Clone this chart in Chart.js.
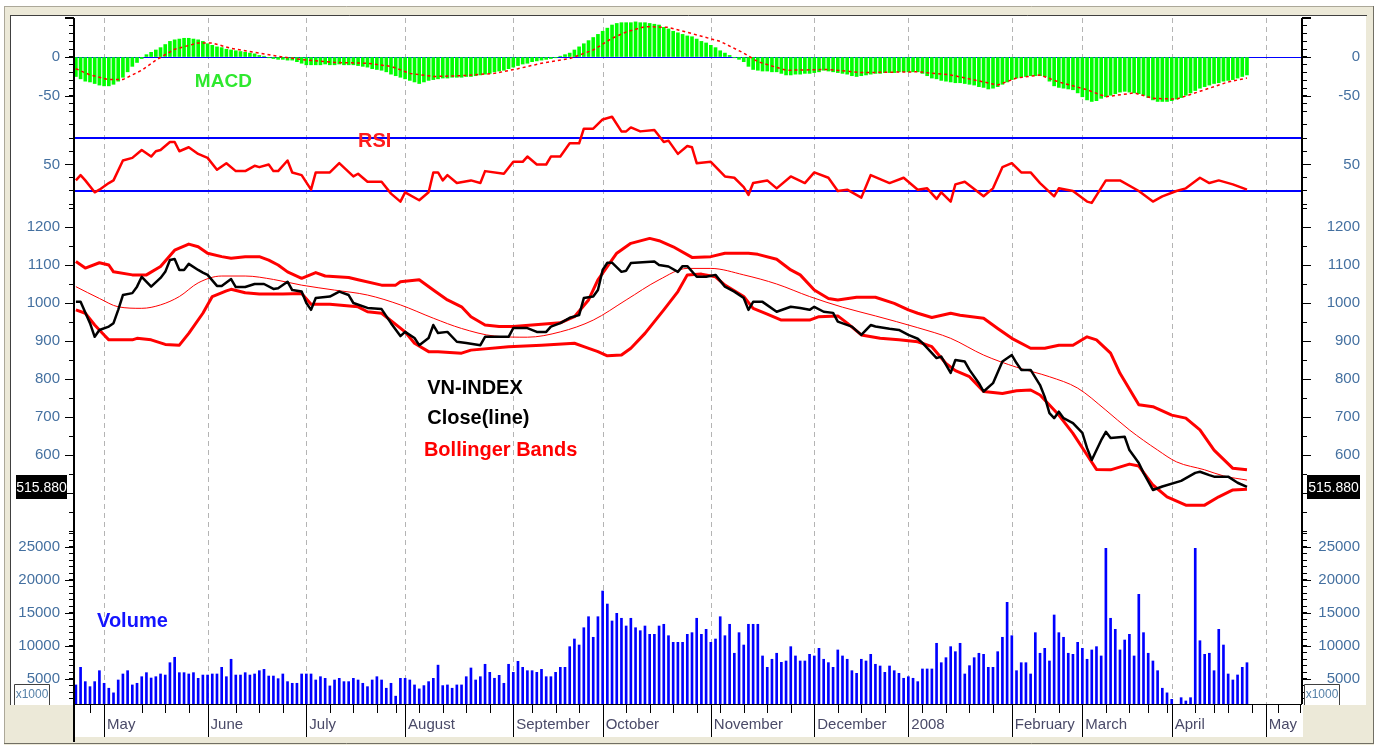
<!DOCTYPE html>
<html>
<head>
<meta charset="utf-8">
<script src="https://cdn.jsdelivr.net/npm/chart.js@4.4.1/dist/chart.umd.min.js"></script>
<style>
html, body { margin: 0; padding: 0; background: #fff; overflow: hidden; }
canvas { display: block; }
</style>
</head>
<body>
<canvas id="myChart" width="1378" height="745"></canvas>
<script>
// trading day index 0..249 (Apr 2007 - Apr 2008)
const monthName = ["May","June","July","August","September","October","November","December","2008","February","March","April","May"];
const monthStart = [6, 28, 49, 70, 93, 112, 135, 157, 177, 199, 214, 233, 253];
const weekTicks = [3, 14, 19, 24, 34, 39, 44, 54, 59, 64, 68, 73, 78, 83, 88, 97, 102, 107, 117, 122, 127, 132, 137, 142, 147, 152, 162, 167, 172, 180, 185, 190, 195, 204, 209, 219, 224, 228, 232, 238, 242, 245, 250, 255.6, 260.3];

const closeDay = [0,1,3,4,5,7,8,9,10,12,13,14,16,18,19,20,21,22,23,24,26,27,28,30,31,33,34,36,38,40,42,43,45,46,48,49,50,51,54,56,58,59,62,65,67,69,70,72,73,75,76,77,79,81,83,86,87,92,93,96,98,100,101,103,105,107,108,110,111,112,113,114,116,117,118,123,124,126,128,129,130,132,134,136,138,140,142,143,144,146,149,152,154,156,157,159,161,162,165,167,169,170,173,175,177,179,180,183,184,186,187,189,190,192,193,195,197,199,200,201,203,205,206,207,208,209,210,212,214,215,216,218,219,220,223,224,226,227,229,231,235,238,239,241,242,245,247,249];
const closeVal = [1003,1003,947,911,929,938,947,982,1021,1026,1043,1069,1043,1066,1082,1113,1116,1087,1087,1103,1087,1080,1074,1045,1045,1063,1042,1042,1050,1050,1037,1039,1056,1034,1030,1000,982,1013,1017,1030,1021,1000,987,984,947,913,924,908,889,908,942,921,924,898,895,889,911,911,934,934,924,924,938,947,961,968,1013,1017,1034,1087,1106,1106,1082,1085,1105,1109,1100,1096,1082,1097,1097,1069,1069,1074,1043,1030,1013,982,1003,1003,977,990,987,982,990,977,974,951,938,916,942,938,932,929,916,906,895,855,859,816,850,846,824,789,767,789,846,863,842,824,824,784,753,710,697,714,697,684,658,618,587,639,661,645,648,613,579,553,508,517,532,553,556,547,543,543,527,516];
const lastClose = 515.88;

const upperDay = [0,2,5,7,8,12,15,18,21,24,26,28,31,33,36,39,41,43,45,48,51,53,58,60,65,68,69,73,76,79,82,84,87,90,93,97,103,106,109,111,115,118,122,124,127,131,135,138,143,145,149,152,154,157,160,162,166,170,174,177,179,182,186,188,193,196,199,203,206,209,212,215,217,220,222,226,229,233,236,239,242,246,249];
const upperVal = [1109,1092,1106,1100,1082,1074,1074,1096,1139,1155,1148,1131,1122,1118,1122,1122,1113,1100,1082,1065,1080,1071,1067,1061,1047,1047,1056,1061,1034,1008,990,964,942,938,938,942,948,964,1008,1061,1131,1157,1170,1164,1148,1120,1122,1131,1131,1128,1115,1087,1074,1034,1012,1008,1015,1015,999,982,973,962,973,968,960,933,907,881,881,889,889,911,903,868,815,732,727,705,697,666,613,565,561];

const lowerDay = [0,2,4,6,7,12,13,16,19,22,24,27,29,32,33,36,39,44,48,50,54,60,62,65,70,72,75,77,82,84,92,99,106,108,111,113,116,118,121,125,128,130,133,136,138,142,144,147,150,156,158,162,164,167,171,175,179,182,185,187,190,193,197,200,203,205,209,212,215,217,220,224,226,229,232,236,240,243,246,249];
const lowerVal = [982,973,942,916,903,903,907,903,891,889,920,973,1017,1032,1036,1027,1024,1024,1025,997,997,990,977,973,924,894,872,872,868,876,885,889,894,885,872,861,863,881,920,982,1030,1074,1076,1069,1047,1017,986,971,955,955,964,966,947,916,907,903,898,885,841,822,806,767,762,769,771,758,705,657,600,562,561,576,571,521,490,468,468,490,508,510];

const midDay = [0,5,9,14,18,22,26,31,36,42,48,55,62,69,76,82,89,96,103,110,117,124,130,135,142,149,156,163,170,179,186,193,200,207,213,219,224,230,234,240,244,249];
const midVal = [1043,1012,990,986,995,1017,1053,1071,1071,1062,1047,1034,1021,995,960,933,913,910,924,955,1008,1061,1091,1091,1074,1050,1017,989,966,935,907,863,831,806,776,718,666,613,582,561,545,534];

const rsiDay = [0,1,2,4,5,7,8,10,12,14,16,17,18,20,21,22,24,26,28,30,32,34,36,38,39,41,42,43,45,46,48,50,51,54,56,59,60,62,65,67,69,70,73,75,76,77,78,79,81,84,86,87,91,93,95,96,98,100,101,103,105,107,108,110,112,114,116,117,118,120,123,125,126,128,130,131,132,135,138,140,142,143,144,147,149,152,155,157,160,162,164,167,169,173,176,179,181,183,184,186,187,189,193,195,197,199,201,203,205,208,209,212,215,216,219,222,226,229,231,234,236,239,241,243,246,249];
const rsiVal = [38,42,38,29,31,36,38,53,55,61,56,60,61,67,67,60,63,58,55,46,51,45,45,49,48,50,45,45,53,44,42,31,44,44,51,41,43,37,37,28,22,29,23,29,44,44,38,42,36,38,36,45,43,52,52,56,50,50,56,56,66,66,77,77,84,86,75,75,78,75,76,67,68,58,64,63,51,52,41,40,33,27,36,38,32,41,36,44,40,30,31,25,42,36,40,31,32,24,29,22,35,37,26,32,48,51,44,44,36,26,32,30,22,21,38,38,30,22,26,30,32,40,36,38,35,31];
const rsiLevels = [70, 30];

const macd = [-25,-28,-31,-32,-34,-36,-37,-37,-35,-31,
  -26,-19,-12,-7,-2,3,6,9,12,16,
  20,22,23,24,24,23,22,20,17,15,
  13,12,10,9,8,7,6,5,4,2,
  1,-1,-2,-3,-3,-4,-4,-6,-8,-10,
  -10,-10,-10,-9,-10,-10,-9,-10,-10,-10,
  -11,-12,-13,-15,-16,-17,-19,-22,-24,-26,
  -28,-30,-32,-34,-32,-30,-29,-28,-27,-27,
  -26,-26,-26,-25,-25,-24,-23,-22,-21,-19,
  -18,-17,-15,-13,-11,-9,-8,-6,-5,-4,
  -3,-2,-1,1,3,5,9,13,17,21,
  25,29,33,37,41,43,44,44,44,45,
  44,44,43,42,41,38,36,33,31,29,
  27,26,23,20,18,15,12,8,5,2,
  -1,-3,-6,-12,-16,-17,-18,-18,-19,-19,
  -21,-23,-23,-22,-22,-21,-21,-20,-19,-17,
  -18,-19,-20,-21,-22,-24,-25,-24,-23,-22,
  -21,-21,-20,-20,-20,-19,-19,-19,-19,-19,
  -21,-24,-27,-28,-30,-31,-32,-33,-33,-34,
  -35,-36,-38,-39,-41,-40,-38,-35,-32,-29,
  -27,-26,-25,-24,-24,-24,-25,-31,-37,-39,
  -40,-41,-42,-46,-51,-55,-57,-56,-53,-51,
  -49,-47,-45,-44,-45,-46,-47,-49,-52,-55,
  -57,-57,-57,-56,-54,-52,-49,-46,-43,-40,
  -38,-36,-34,-33,-31,-30,-29,-27,-25,-23];
const sigDay = [0,3,7,10,14,17,21,26,29,33,39,44,49,55,62,67,71,76,82,89,94,99,105,110,114,117,121,126,131,137,142,145,151,160,167,179,186,193,196,200,205,209,215,219,225,229,234,239,245,249];
const sigVal = [-15,-23,-29,-29,-17,-4,10,18,18,11,5,0,-4,-7,-8,-12,-21,-25,-24,-21,-15,-8,-2,9,24,32,39,38,30,20,5,-6,-17,-16,-20,-19,-23,-32,-36,-27,-23,-32,-42,-51,-46,-53,-54,-44,-32,-27];
const macdZero = 0;

// volume in thousands
const volume = [4100,6770,4600,3840,4600,6260,4350,3600,2900,4850,
  5760,6260,4100,4350,5350,5960,5150,5350,5760,5600,
  7470,8290,5960,5960,5760,5960,5100,5600,5600,5760,
  5760,6770,5350,7990,5600,5600,5960,5600,5760,6260,
  6460,5450,5450,5050,5760,4600,4350,4350,5760,5760,
  5760,4850,5350,5100,3950,4850,5100,4600,4600,5100,
  4850,4350,3840,4850,5350,4850,3600,4350,2400,5100,
  5100,4850,4100,3500,4000,4600,5100,7100,4000,4100,
  3600,4100,4100,5350,6670,4850,5350,7230,6010,5110,
  5560,4350,7230,6010,7680,6770,6260,6260,6010,6460,
  5350,5350,6010,6770,6770,9900,11060,10150,12770,14440,
  11320,14440,18330,16360,13790,14950,14200,13030,14200,12770,
  12320,13030,11770,11770,13030,13290,11560,10560,10560,10560,
  11770,12020,14200,11770,12530,10560,11060,14440,11560,13290,
  8900,12020,10150,13290,13290,13290,8490,6770,7990,8900,
  7530,7730,9900,8490,7730,7730,8740,8490,9650,7990,
  7480,6770,9400,8490,7990,6260,5860,7990,7730,8740,
  7230,6970,6010,6970,6260,5860,5110,5350,5110,4600,
  6520,6520,6520,10410,7470,8230,9900,9140,10410,5760,
  7020,8230,8900,8740,6770,6770,9140,11320,16620,11560,
  6260,7470,7470,5760,12020,8900,9650,7730,14700,12020,
  11320,8900,8740,10560,9650,7990,9400,9900,8490,24800,
  14200,12530,9400,10910,11770,8490,17830,12020,8900,7730,
  6260,3600,2900,1920,null,2170,1670,2170,24800,10800,
  8740,8900,6260,12530,10150,5760,4850,5610,6770,7470];

const FONT = "'Liberation Sans', Arial, sans-serif";

const notes = [
  {text: "MACD", scale: "macd", day: 25.3, value: -32, color: "#2ee82e", size: 19},
  {text: "RSI", scale: "rsi", day: 60, value: 67.7, color: "#ff1a1a", size: 20},
  {text: "VN-INDEX", scale: "price", day: 74.7, value: 776, color: "#000000", size: 20},
  {text: "Close(line)", scale: "price", day: 74.7, value: 697, color: "#000000", size: 20},
  {text: "Bollinger Bands", scale: "price", day: 74, value: 613, color: "#ff0000", size: 20},
  {text: "Volume", scale: "vol", day: 4.5, value: 13640, color: "#1414ff", size: 20}
];

// panels top to bottom: id, min, max, tick step, height weight, labelled ticks
const panels = [
  ["macd", -71.8, 50, 10, 95, v => v === 0 || v === -50],
  ["rsi", 19.43, 88.87, 10, 92, v => v === 50],
  ["price", 400, 1257.9, 50, 326, v => v % 100 === 0 && v >= 500],
  ["vol", 1212, 27424, 1000, 173, v => v % 5000 === 0]
];

const pts = (xs, ys) => xs.map((x, i) => ({x: x, y: ys[i]}));
const daily = ys => ys.map((y, i) => ({x: i, y: y}));

function line(c, x1, y1, x2, y2) {
  c.beginPath(); c.moveTo(x1, y1); c.lineTo(x2, y2); c.stroke();
}

function yAxis(pos, id, min, max, step, weight, show) {
  return {
    type: "linear", position: pos, stack: pos === "left" ? "L" : "R", stackWeight: weight,
    min: min, max: max, bounds: "data",
    grid: {display: true, drawOnChartArea: false, drawTicks: true, tickLength: 5, tickColor: "#000000", tickWidth: 1},
    border: {display: false},
    afterBuildTicks: s => {
      const t = [];
      for (let v = Math.ceil(s.min / step) * step; v <= s.max; v += step) t.push({value: v});
      s.ticks = t;
    },
    afterFit: s => { s.width = pos === "left" ? 63 : 58; s.paddingTop = 0; s.paddingBottom = 0; },
    ticks: {
      autoSkip: false, padding: pos === "left" ? 9 : 0, crossAlign: pos === "left" ? "near" : "far",
      color: "#4470a0", font: {family: FONT, size: 15},
      callback: v => show(v) ? String(v) : ""
    }
  };
}

const scales = {
  x: {
    type: "linear", min: -0.4, max: 260.7, offset: false, bounds: "data",
    grid: {display: false, drawTicks: false},
    border: {display: false},
    afterBuildTicks: s => { s.ticks = monthStart.map(v => ({value: v})); },
    afterFit: s => { s.height = 33; s.paddingLeft = 0; s.paddingRight = 0; },
    ticks: {
      autoSkip: false, maxRotation: 0, minRotation: 0, align: "start", labelOffset: 3, padding: 12,
      color: "#4a4a68", font: {family: FONT, size: 15},
      callback: (v, i) => monthName[i]
    }
  }
};
panels.slice().reverse().forEach(p => { scales[p[0]] = yAxis("left", ...p); });
panels.forEach(p => { scales[p[0] + "R"] = yAxis("right", ...p); });

const deco = {
  id: "deco",
  beforeDraw(chart) {
    const c = chart.ctx, a = chart.chartArea, xs = chart.scales.x;
    const W = chart.width, H = chart.height;
    const inL = chart.scales.macd.left, inR = W - 12;
    c.save();
    c.fillStyle = "#ffffff"; c.fillRect(0, 0, W, H);
    c.fillStyle = "#ece9d8"; c.fillRect(4, 6, W - 8, H - 6);
    c.fillStyle = "#ffffff";
    c.fillRect(inL, a.top - 2, inR - inL, a.bottom - a.top + 3);
    c.fillRect(a.left, a.bottom, a.right - a.left + 1, xs.bottom - a.bottom);
    c.lineWidth = 1;
    c.strokeStyle = "#aca899";
    line(c, 4, 6.5, W - 4, 6.5); line(c, 4.5, 6, 4.5, H - 1);
    c.strokeStyle = "#716f64";
    line(c, 4, H - 1.5, W - 4, H - 1.5); line(c, W - 4.5, 6, W - 4.5, H - 1);
    c.strokeStyle = "#404040";
    line(c, inL - 1, a.top - 2.5, inR + 1, a.top - 2.5); line(c, inL - 0.5, a.top - 3, inL - 0.5, a.bottom + 1);
    c.restore();
  },
  beforeDatasetsDraw(chart) {
    const c = chart.ctx, a = chart.chartArea, xs = chart.scales.x;
    c.save();
    c.strokeStyle = "#b4b4b4"; c.lineWidth = 1; c.setLineDash([5, 4]);
    monthStart.forEach(m => {
      const x = Math.round(xs.getPixelForValue(m)) + 0.5;
      line(c, x, a.top, x, a.bottom);
    });
    c.setLineDash([]);
    c.strokeStyle = "#0000ff";
    c.lineWidth = 1;
    const y0 = Math.round(chart.scales.macd.getPixelForValue(macdZero)) + 0.5;
    line(c, a.left, y0, a.right, y0);
    c.lineWidth = 2;
    rsiLevels.forEach(v => {
      const y = Math.round(chart.scales.rsi.getPixelForValue(v));
      line(c, a.left, y, a.right, y);
    });
    c.restore();
  },
  afterDraw(chart) {
    const c = chart.ctx, a = chart.chartArea, xs = chart.scales.x, H = chart.height;
    c.save();
    c.strokeStyle = "#000000"; c.lineWidth = 1;
    // longer marks on the labelled ticks
    panels.forEach(p => {
      const s = chart.scales[p[0]];
      s.ticks.forEach(t => {
        if (!p[5](t.value)) return;
        const y = Math.round(s.getPixelForValue(t.value)) + 0.5;
        line(c, a.left - 9, y, a.left, y);
        line(c, a.right, y, a.right + 9, y);
      });
    });
    c.lineWidth = 2;
    line(c, a.left, a.top, a.left, H - 3);
    line(c, a.right, a.top, a.right, a.bottom);
    line(c, a.left - 9, a.top, a.left, a.top);
    line(c, a.right, a.top, a.right + 9, a.top);
    c.lineWidth = 1;
    line(c, a.left, a.bottom + 0.5, a.right, a.bottom + 0.5);
    monthStart.forEach(m => {
      const x = Math.round(xs.getPixelForValue(m)) + 0.5;
      line(c, x, a.bottom, x, xs.bottom);
    });
    weekTicks.forEach(w => {
      const x = Math.round(xs.getPixelForValue(w)) + 0.5;
      line(c, x, a.bottom, x, a.bottom + 9);
    });

    // last value boxes
    const yv = Math.round(chart.scales.price.getPixelForValue(lastClose));
    const txt = lastClose.toFixed(3);
    c.fillStyle = "#000000";
    c.fillRect(a.left - 58, yv - 12, 51, 24);
    c.fillRect(a.right + 5, yv - 12, 53, 24);
    c.fillStyle = "#ffffff";
    c.font = "14px " + FONT; c.textAlign = "center"; c.textBaseline = "middle";
    c.fillText(txt, a.left - 32.5, yv + 1);
    c.fillText(txt, a.right + 31.5, yv + 1);

    // x1000 boxes
    [a.left - 60, a.right + 2].forEach(bx => {
      c.fillStyle = "#ffffff";
      c.fillRect(bx, a.bottom - 20, 36, 20);
      c.strokeStyle = "#404040";
      c.beginPath();
      c.moveTo(bx + 0.5, a.bottom + 1); c.lineTo(bx + 0.5, a.bottom - 19.5);
      c.lineTo(bx + 35.5, a.bottom - 19.5); c.lineTo(bx + 35.5, a.bottom + 1);
      c.stroke();
      c.fillStyle = "#5580a8"; c.font = "12px " + FONT;
      c.fillText("x1000", bx + 18, a.bottom - 9);
    });

    // panel captions
    c.textAlign = "left"; c.textBaseline = "middle";
    notes.forEach(n => {
      c.fillStyle = n.color;
      c.font = "bold " + n.size + "px " + FONT;
      c.fillText(n.text, xs.getPixelForValue(n.day), chart.scales[n.scale].getPixelForValue(n.value));
    });
    c.restore();
  }
};

new Chart("myChart", {
  type: "bar",
  data: {
    datasets: [
      {type: "line", label: "Close", yAxisID: "price", data: pts(closeDay, closeVal), borderColor: "#000000", borderWidth: 2.5, pointRadius: 0, borderJoinStyle: "round", order: 1},
      {type: "line", label: "Middle", yAxisID: "price", data: pts(midDay, midVal), borderColor: "#ff0000", borderWidth: 1, pointRadius: 0, cubicInterpolationMode: "monotone", order: 2},
      {type: "line", label: "Upper", yAxisID: "price", data: pts(upperDay, upperVal), borderColor: "#ff0000", borderWidth: 3, pointRadius: 0, borderJoinStyle: "round", order: 3},
      {type: "line", label: "Lower", yAxisID: "price", data: pts(lowerDay, lowerVal), borderColor: "#ff0000", borderWidth: 3, pointRadius: 0, borderJoinStyle: "round", order: 3},
      {type: "line", label: "RSI", yAxisID: "rsi", data: pts(rsiDay, rsiVal), borderColor: "#ff0000", borderWidth: 2.5, pointRadius: 0, borderJoinStyle: "round", order: 1},
      {type: "line", label: "Signal", yAxisID: "macd", data: pts(sigDay, sigVal), borderColor: "#ff0000", borderWidth: 1.5, borderDash: [3, 3], pointRadius: 0, order: 1},
      {type: "bar", label: "MACD", yAxisID: "macd", data: daily(macd), backgroundColor: "#00ff00", borderWidth: 0, barThickness: 3, grouped: false, order: 5},
      {type: "bar", label: "Volume", yAxisID: "vol", data: daily(volume), backgroundColor: "#0000ff", borderWidth: 0, barThickness: 2, grouped: false, order: 5}
    ]
  },
  options: {
    responsive: false,
    animation: false,
    devicePixelRatio: 1,
    events: [],
    layout: {padding: {left: 11, right: 18, top: 18, bottom: 8}},
    plugins: {legend: {display: false}, tooltip: {enabled: false}},
    scales: scales
  },
  plugins: [deco]
});
</script>
</body>
</html>
